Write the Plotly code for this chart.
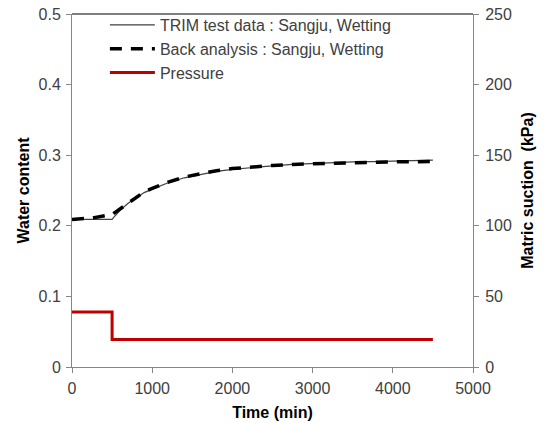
import plotly.graph_objects as go

# Data
trim_time = [0, 100, 200, 300, 400, 500, 520, 600, 700, 800, 900, 1000, 1200, 1400,
             1600, 1800, 2000, 2250, 2500, 2750, 3000, 3250, 3500, 3750, 4000, 4250, 4500]
trim_wc = [0.209, 0.209, 0.209, 0.209, 0.209, 0.209, 0.212, 0.222, 0.232, 0.240, 0.247,
           0.252, 0.261, 0.268, 0.273, 0.277, 0.280, 0.283, 0.285, 0.287, 0.2885, 0.2895,
           0.2905, 0.291, 0.292, 0.2925, 0.293]

back_time = [0, 250, 500, 600, 700, 800, 900, 1000, 1200, 1400, 1600, 1800, 2000, 2250,
             2500, 2750, 3000, 3250, 3500, 3750, 4000, 4250, 4500]
back_wc = [0.209, 0.211, 0.216, 0.224, 0.233, 0.241, 0.248, 0.253, 0.262, 0.269, 0.274,
           0.278, 0.281, 0.2835, 0.2855, 0.287, 0.288, 0.289, 0.2895, 0.290, 0.2905, 0.291, 0.291]

pressure_time = [0, 500, 500, 4500]
pressure_kpa = [39, 39, 19.5, 19.5]

axis_color = "#868686"
text_color = "#404040"
font_family = "Liberation Sans, Arial, sans-serif"

fig = go.Figure()
fig.add_trace(go.Scatter(x=trim_time, y=trim_wc, mode="lines",
                         name="TRIM test data : Sangju, Wetting",
                         line=dict(color="#404040", width=1.2)))
fig.add_trace(go.Scatter(x=back_time, y=back_wc, mode="lines",
                         name="Back analysis : Sangju, Wetting",
                         line=dict(color="black", width=3.5, dash="12px,9px")))
fig.add_trace(go.Scatter(x=pressure_time, y=pressure_kpa, mode="lines",
                         name="Pressure", yaxis="y2",
                         line=dict(color="#C00000", width=3)))

fig.update_layout(
    width=549, height=423,
    margin=dict(l=72, r=76, t=14, b=56, autoexpand=False),
    paper_bgcolor="white", plot_bgcolor="white",
    font=dict(family=font_family, size=16, color=text_color),
    showlegend=True,
    legend=dict(x=0.082, y=1.017, xanchor="left", yanchor="top",
                bgcolor="rgba(0,0,0,0)", font=dict(size=16, color=text_color),
                tracegroupgap=0, itemwidth=45),
    xaxis=dict(range=[0, 5000], dtick=1000, tick0=0, showgrid=False, zeroline=False,
               showline=True, linecolor=axis_color, linewidth=1, automargin=False,
               ticks="outside", ticklen=5, tickcolor=axis_color, ticklabelstandoff=2,
               title=dict(text="<b>Time (min)</b>", font=dict(size=16, color="black"), standoff=10)),
    yaxis=dict(range=[0, 0.5], dtick=0.1, tick0=0, showgrid=False, zeroline=False,
               showline=True, linecolor=axis_color, linewidth=1, automargin=False,
               ticks="outside", ticklen=5, tickcolor=axis_color, tickformat=".1~f",
               ticklabelstandoff=2,
               title=dict(text="<b>Water content</b>", font=dict(size=16, color="black"), standoff=4)),
    yaxis2=dict(range=[0, 250], dtick=50, tick0=0, overlaying="y", side="right",
                showgrid=False, zeroline=False, automargin=False,
                showline=True, linecolor=axis_color, linewidth=1,
                ticks="outside", ticklen=5, tickcolor=axis_color, ticklabelstandoff=3,
                title=dict(text="<b>Matric suction  (kPa)</b>", font=dict(size=16, color="black"), standoff=10)),
    shapes=[dict(type="line", xref="paper", yref="paper", x0=0, x1=1, y0=1, y1=1,
                 line=dict(color="black", width=1.2))],
)

fig.write_html("out.html")
